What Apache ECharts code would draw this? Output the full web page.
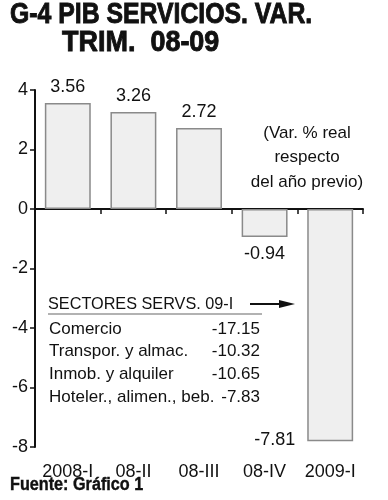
<!DOCTYPE html>
<html><head><meta charset="utf-8">
<script src="https://cdn.jsdelivr.net/npm/echarts@6/dist/echarts.min.js"></script>
<style>html,body{margin:0;padding:0;background:#fff}#c{width:388px;height:500px}</style>
</head><body><div id="c"></div>
<script>
var categories = ['2008-I', '08-II', '08-III', '08-IV', '2009-I'];
var values = [3.56, 3.26, 2.72, -0.94, -7.81];
var yTicks = [-8, -6, -4, -2, 0, 2, 4];
var sectorNames = ['Comercio', 'Transpor. y almac.', 'Inmob. y alquiler', 'Hoteler., alimen., beb.'];
var sectorValues = [-17.15, -10.32, -10.65, -7.83];
var titleLines = ['G-4 PIB SERVICIOS. VAR.', 'TRIM.  08-09'];
var noteLines = ['(Var. % real', 'respecto', 'del año previo)'];
var tableTitle = 'SECTORES SERVS. 09-I';
var sourceText = 'Fuente: Gráfico 1';

var F = '"Liberation Sans", Arial, sans-serif';
var chart = echarts.init(document.getElementById('c'), null, {renderer: 'canvas'});

var barData = values.map(function (v, i) {
  var item = {value: v};
  if (i === values.length - 1) {
    item.label = {position: [-12, '100%'], align: 'right', verticalAlign: 'middle', offset: [0, -1]};
  } else if (v < 0) {
    item.label = {position: 'bottom', distance: 8};
  }
  return item;
});

var graphics = [];
graphics.push({type: 'text', x: 10, y: 0, scaleX: 0.855,
  style: {text: titleLines[0], font: 'bold 29px ' + F, fill: '#111', stroke: '#111', lineWidth: 0.9}});
graphics.push({type: 'text', x: 62, y: 28, scaleX: 0.93,
  style: {text: titleLines[1], font: 'bold 29px ' + F, fill: '#111', stroke: '#111', lineWidth: 0.9}});
noteLines.forEach(function (t, i) {
  graphics.push({type: 'text', x: 307, y: 133 + i * 24.5,
    style: {text: t, font: '17px ' + F, fill: '#111', textAlign: 'center', textVerticalAlign: 'middle'}});
});
graphics.push({type: 'text', x: 48, y: 304, scaleX: 0.955,
  style: {text: tableTitle, font: '17px ' + F, fill: '#111', textVerticalAlign: 'middle'}});
graphics.push({type: 'line', shape: {x1: 48, y1: 314, x2: 262, y2: 314}, style: {stroke: '#666', lineWidth: 1.2}});
graphics.push({type: 'line', shape: {x1: 250, y1: 304, x2: 282, y2: 304}, style: {stroke: '#111', lineWidth: 2}});
graphics.push({type: 'polygon', shape: {points: [[279, 300], [295, 304], [279, 308]]}, style: {fill: '#111'}});
sectorNames.forEach(function (n, i) {
  graphics.push({type: 'text', x: 49, y: 329 + i * 22.8,
    style: {text: n, font: '17px ' + F, fill: '#111', textVerticalAlign: 'middle'}});
  graphics.push({type: 'text', x: 260, y: 329 + i * 22.8,
    style: {text: sectorValues[i].toFixed(2), font: '17px ' + F, fill: '#111', textAlign: 'right', textVerticalAlign: 'middle'}});
});
graphics.push({type: 'text', x: 10, y: 476, scaleX: 0.9,
  style: {text: sourceText, font: 'bold 18px ' + F, fill: '#111', stroke: '#111', lineWidth: 0.4}});

chart.setOption({
  animation: false,
  grid: {left: 35, right: 25, top: 90, bottom: 53, containLabel: false},
  xAxis: [{
    type: 'category', data: categories,
    axisLine: {onZero: true, lineStyle: {color: '#111', width: 2}},
    axisTick: {show: true, length: 5, inside: false, lineStyle: {color: '#111', width: 1.5}},
    axisLabel: {show: false}
  }, {
    type: 'category', data: categories, position: 'bottom',
    axisLine: {show: false, onZero: false}, axisTick: {show: false},
    axisLabel: {show: true, interval: 0, margin: 16, color: '#111', fontFamily: F, fontSize: 18}
  }],
  yAxis: {
    type: 'value', min: -8, max: 4, interval: 2,
    splitLine: {show: false},
    axisLine: {show: true, lineStyle: {color: '#111', width: 2}},
    axisTick: {show: true, length: 5, lineStyle: {color: '#111', width: 1.5}},
    axisLabel: {margin: 7, color: '#111', fontFamily: F, fontSize: 18,
      formatter: function (v) { return yTicks.indexOf(v) >= 0 ? String(v) : ''; }}
  },
  series: [{
    type: 'bar', xAxisIndex: 0, data: barData, barWidth: '70%',
    itemStyle: {color: '#efefef', borderColor: '#8a8a8a', borderWidth: 1.5},
    label: {show: true, position: 'top', distance: 7, color: '#111', fontFamily: F, fontSize: 18,
      formatter: function (p) { return p.value.toFixed(2); }}
  }],
  graphic: graphics
});
</script></body></html>
